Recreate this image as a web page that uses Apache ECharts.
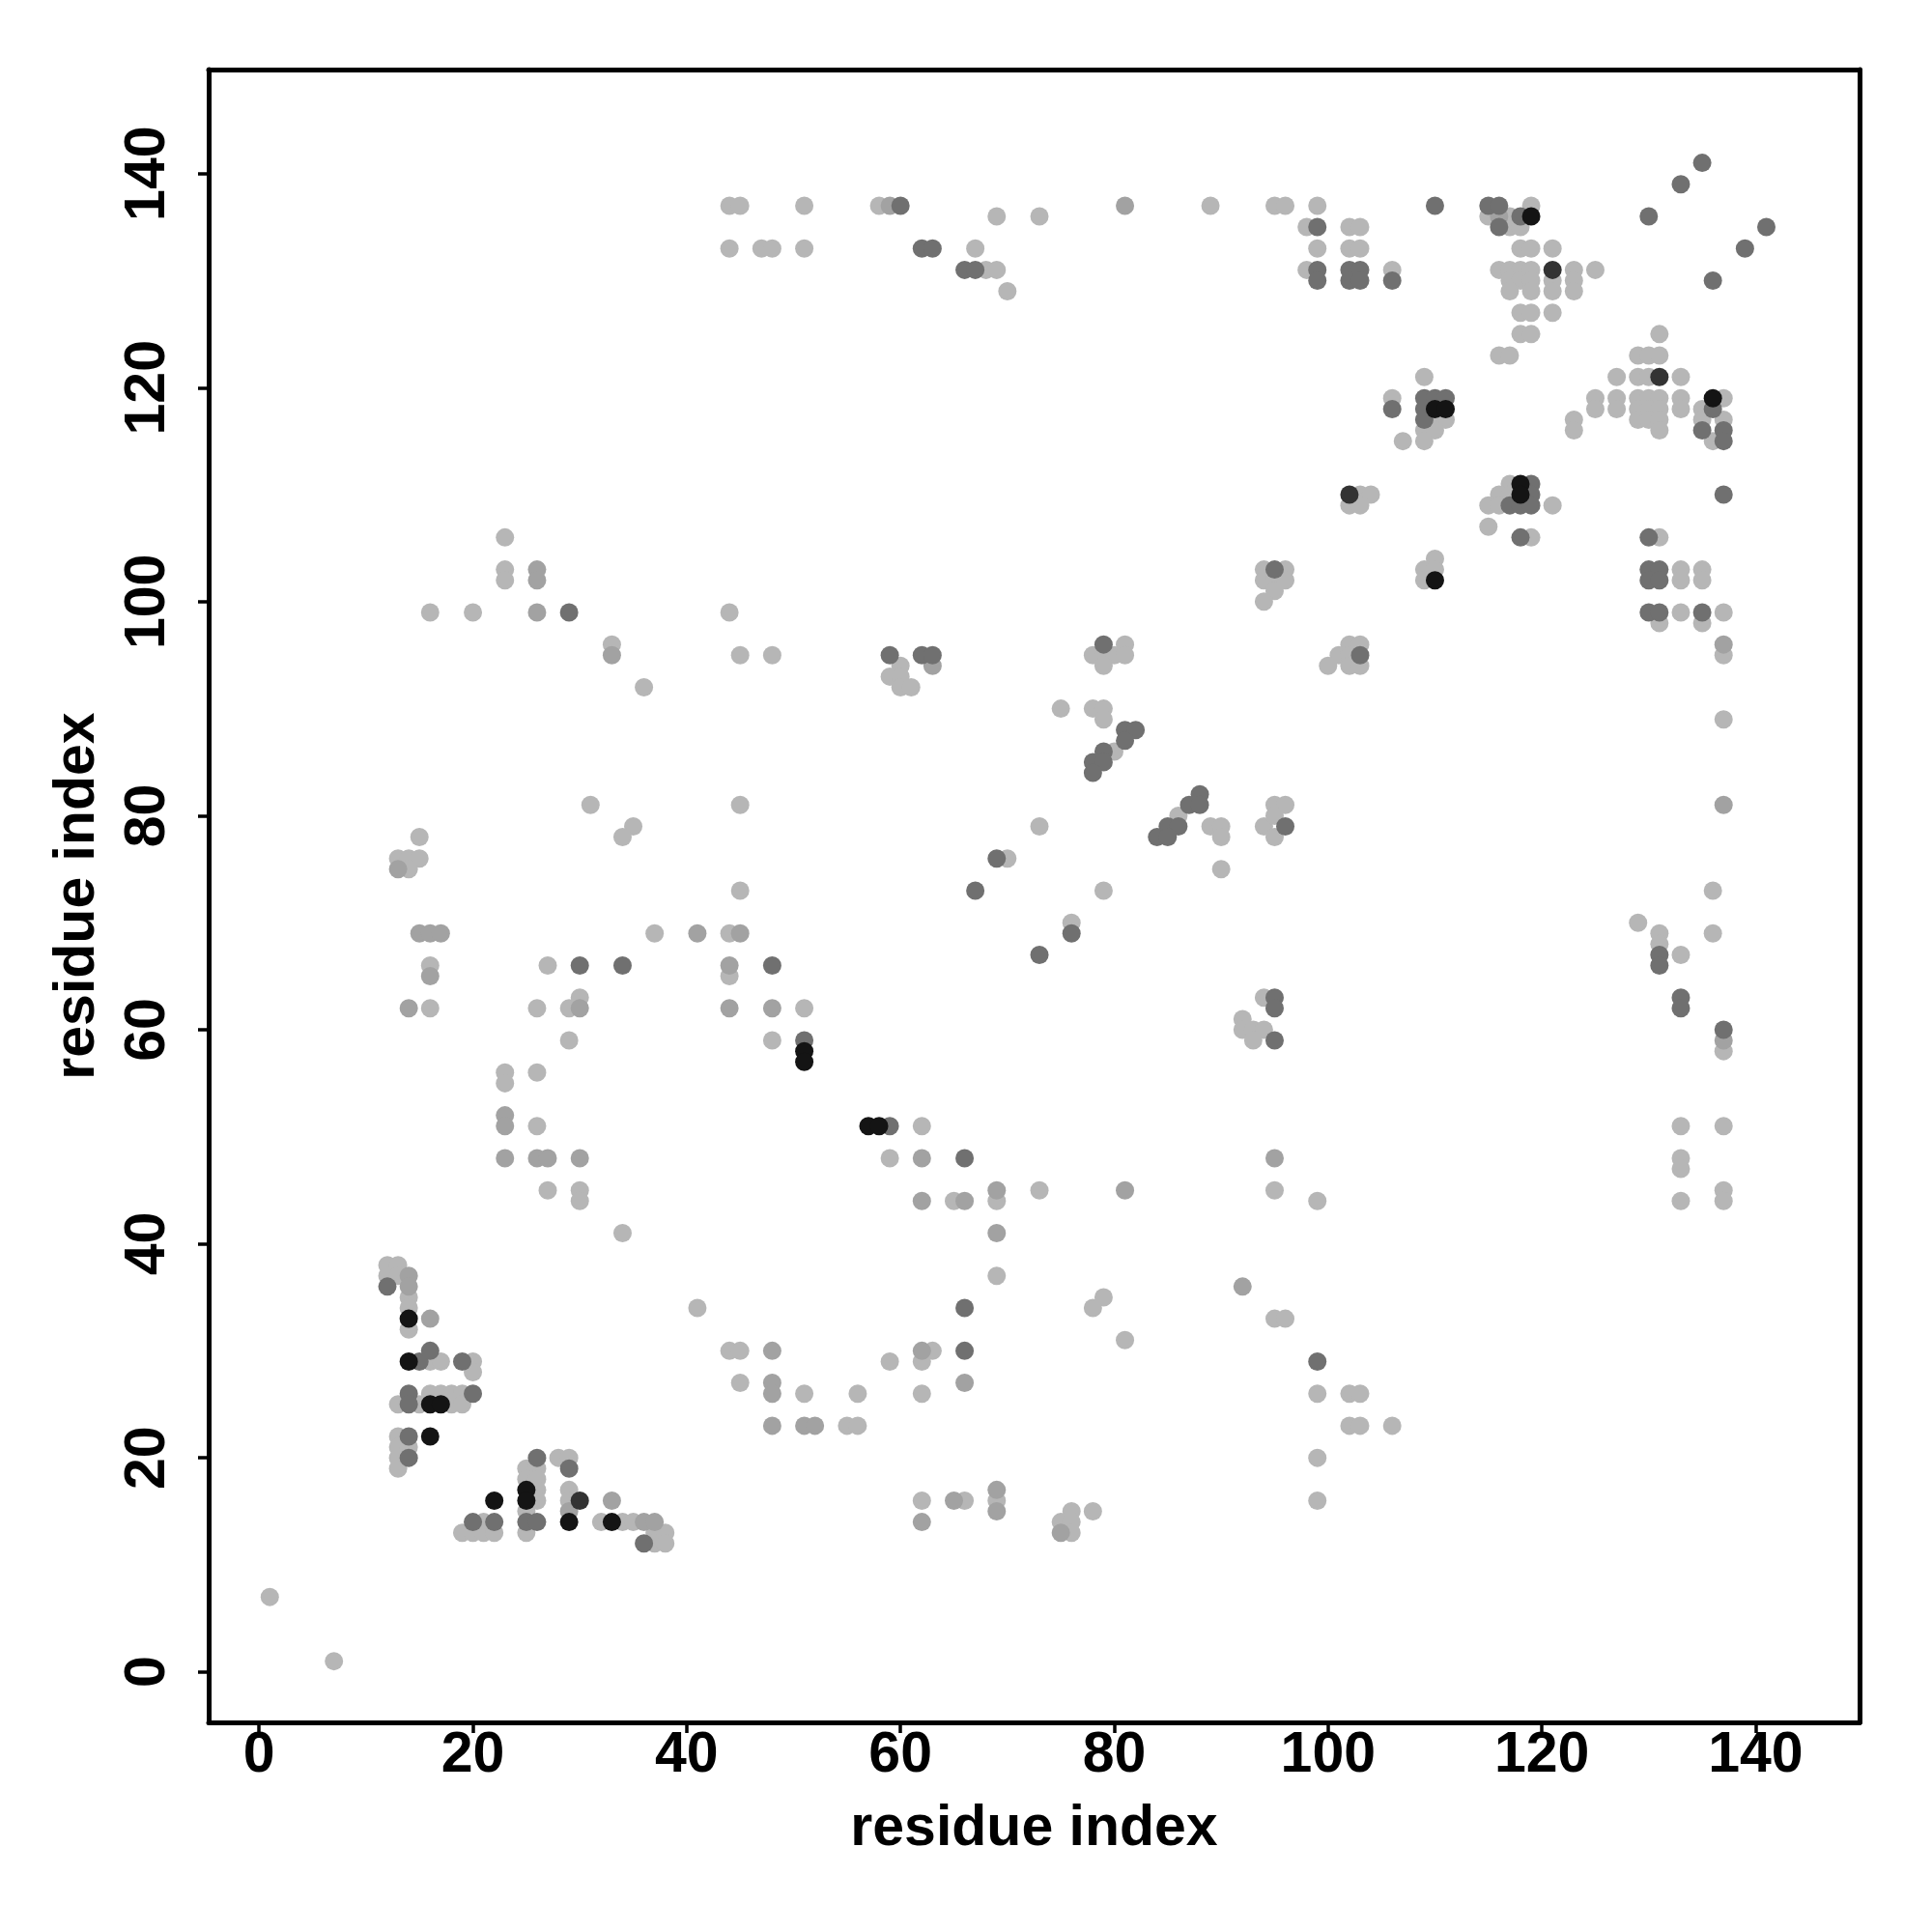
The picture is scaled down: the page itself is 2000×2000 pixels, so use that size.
<!DOCTYPE html>
<html>
<head>
<meta charset="utf-8">
<script src="https://cdn.jsdelivr.net/npm/echarts@6/dist/echarts.min.js"></script>
<style>
html,body{margin:0;padding:0;background:#fff;}
#chart{width:2000px;height:2000px;}
</style>
</head>
<body>
<div id="chart"></div>
<script>
// axis
const axisMin = -4.72, axisMax = 149.72;
const tickValues = [0, 20, 40, 60, 80, 100, 120, 140];
const axisTitle = 'residue index';

// contact probability levels (grey shade of each dot)
const levelLight = 0.25, levelMedium = 0.34, levelDark = 0.56, levelVeryDark = 0.83, levelBlack = 0.97;

// contacts [residue i, residue j] per level
const lightContacts = [
[44,137],[45,137],[44,133],[51,137],[58,137],[69,136],[73,136],[89,137],[95,137],[96,137],
[47,133],[48,133],[51,133],[67,133],[68,131],[69,131],[70,129],
[99,137],[98,135],[102,135],[103,135],[99,133],[102,133],[103,133],[98,131],[106,131],
[119,137],[115,136],[117,136],[117,135],[118,135],[118,133],[119,133],[121,133],
[116,131],[117,131],[118,131],[119,131],[123,131],[125,131],
[117,130],[118,130],[119,130],[121,130],[123,130],
[117,129],[119,129],[121,129],[123,129],
[118,127],[119,127],[121,127],[118,125],[119,125],[116,123],[117,123],
[109,121],[106,119],[110,117],[111,117],[109,116],[110,116],[107,115],[109,115],
[131,125],[129,123],[130,123],[131,123],[127,121],[129,121],[130,121],[133,121],
[125,119],[127,119],[129,119],[130,119],[131,119],[133,119],[137,119],
[125,118],[127,118],[129,118],[130,118],[131,118],[133,118],[135,118],
[123,117],[129,117],[130,117],[131,117],[135,117],[137,117],
[123,116],[131,116],[136,115],
[23,106],[23,103],[23,102],[16,99],[20,99],[44,99],[33,96],[45,95],[36,92],[31,81],[35,79],[34,78],[45,81],[15,78],[13,76],[14,76],[15,76],[14,75],
[48,95],[60,94],[59,93],[60,93],[60,92],[61,92],
[81,96],[78,95],[79,95],[80,95],[81,95],[79,94],
[75,90],[78,90],[79,90],[79,89],[80,86],[86,80],
[89,79],[90,79],[90,78],[90,75],[94,79],[95,81],[96,81],[95,80],[95,78],[73,79],[70,76],
[94,103],[96,103],[94,102],[95,102],[96,102],[95,101],[94,100],
[103,110],[104,110],[102,109],[103,109],[110,104],[109,103],[110,103],[109,102],
[117,111],[116,110],[117,110],[115,109],[116,109],[121,109],[115,107],[119,106],
[131,106],[133,103],[135,103],[133,102],[135,102],[133,99],[137,99],[131,98],[135,98],
[137,95],[137,89],[136,73],
[102,96],[103,96],[101,95],[102,95],[100,94],[102,94],[103,94],
[45,73],[37,69],[44,69],[16,66],[27,66],[44,65],[16,62],[26,62],[29,62],[30,63],
[29,59],[23,56],[23,55],[26,56],[26,51],[27,45],[30,45],[30,44],[34,41],
[12,38],[13,38],[12,37],[13,37],[14,35],
[79,73],[76,70],[51,62],[48,59],[62,51],[59,48],[73,45],[95,45],[65,44],[69,44],[69,37],[79,35],[78,34],
[94,63],[92,61],[92,60],[93,60],[94,60],[93,59],
[129,70],[131,69],[131,68],[133,67],[136,69],[137,58],
[133,51],[137,51],[133,48],[133,47],[137,45],[137,44],[133,44],[99,44],
[41,34],[44,30],[45,30],[45,27],[1,7],[7,1],
[14,34],[14,32],[16,29],[17,29],[20,29],[20,28],
[16,26],[17,26],[18,26],[19,26],[13,25],[15,25],[18,25],[19,25],
[13,22],[13,21],[14,21],[13,20],[13,19],
[21,14],[19,13],[20,13],[21,13],[22,13],
[25,19],[26,19],[25,18],[26,18],[26,17],[26,16],[25,15],[25,13],
[28,20],[29,20],[29,17],[29,16],
[32,14],[34,14],[35,14],[37,13],[38,13],[37,12],[38,12],
[81,31],[95,33],[96,33],[63,30],[62,29],[59,29],
[51,26],[56,26],[62,26],[55,23],[56,23],
[62,16],[66,16],[69,16],[76,15],[78,15],[75,14],[76,14],[76,13],
[99,26],[102,26],[103,26],[102,23],[103,23],[106,23],[99,20],[99,16]
];
const mediumContacts = [
[59,137],[81,137],[116,136],[26,103],[26,102],[26,99],[33,95],[13,75],[63,94],
[137,96],[137,81],[15,69],[16,69],[17,69],[41,69],[45,69],[16,65],[44,66],[14,62],[30,62],[44,62],
[23,52],[23,51],[23,48],[26,48],[27,48],[30,48],[14,37],[14,36],
[48,62],[62,48],[95,48],[69,45],[81,45],[62,44],[66,44],[69,41],[92,36],[137,59],
[16,33],[29,15],[33,16],[36,14],[37,14],
[48,30],[62,30],[48,27],[66,27],[48,26],[48,23],[51,23],[52,23],
[65,16],[62,14],[69,17],[69,15],[75,13]
];
const darkContacts = [
[60,137],[62,133],[63,133],[66,131],[67,131],[99,135],[99,131],[102,131],[103,131],
[99,130],[102,130],[103,130],[106,130],[110,137],[115,137],[116,137],[118,136],[116,135],
[135,141],[133,139],[130,136],[141,135],[139,133],[136,130],
[109,119],[110,119],[111,119],[106,118],[109,118],[109,117],[136,118],[135,116],[137,116],[137,115],
[29,99],[59,95],[62,95],[63,95],[79,96],
[81,88],[82,88],[81,87],[79,86],[78,85],[79,85],[78,84],
[88,82],[87,81],[88,81],[85,79],[86,79],[84,78],[85,78],[96,79],[69,76],[95,103],
[119,111],[119,110],[117,109],[118,109],[119,109],[118,106],[137,110],[130,106],
[130,103],[131,103],[130,102],[131,102],[130,99],[131,99],[135,99],[103,95],
[30,66],[34,66],[12,36],[67,73],[76,69],[73,67],[48,66],[51,59],[59,51],[66,48],[66,34],
[95,63],[95,62],[95,59],[131,67],[131,66],[133,63],[133,62],[137,60],
[15,29],[19,29],[16,30],[14,26],[20,26],[14,25],[14,22],[14,20],
[20,14],[22,14],[26,20],[25,14],[26,14],[29,19],[36,12],[66,30],[99,29]
];
const veryDarkContacts = [[121,131],[131,121],[102,110],[30,16]];
const blackContacts = [
[119,136],[110,118],[111,118],[136,119],[110,102],[118,111],[118,110],
[51,58],[51,57],[57,51],[58,51],
[14,33],[14,29],[16,25],[17,25],[16,22],[22,16],[25,17],[25,16],[29,14],[33,14]
];

const groups = [
  [lightContacts, levelLight],
  [mediumContacts, levelMedium],
  [darkContacts, levelDark],
  [veryDarkContacts, levelVeryDark],
  [blackContacts, levelBlack]
];
const points = [];
groups.forEach(([arr, p]) => arr.forEach(([i, j]) => points.push([i, j, p])));

const font = '"Liberation Sans", Arial, Helvetica, sans-serif';
const frameLine = {show: true, onZero: false, lineStyle: {color: '#000', width: 5}};
const labelStyle = {fontFamily: font, fontWeight: 'bold', fontSize: 59, color: '#000'};
const tickStyle = {show: true, inside: false, length: 11, lineStyle: {color: '#000', width: 3.5}, customValues: tickValues};

const chart = echarts.init(document.getElementById('chart'), null, {renderer: 'canvas'});
chart.setOption({
  animation: false,
  backgroundColor: '#ffffff',
  grid: {left: 216, top: 72, width: 1709, height: 1711, show: false},
  visualMap: {show: false, type: 'continuous', dimension: 2, seriesIndex: 0, min: 0, max: 1, inRange: {color: ['#eeeeee', '#0d0d0d']}},
  xAxis: [{
    type: 'value', position: 'bottom', min: axisMin, max: axisMax,
    name: axisTitle, nameLocation: 'middle', nameGap: 81,
    nameTextStyle: labelStyle,
    axisLine: frameLine,
    splitLine: {show: false},
    axisTick: tickStyle,
    axisLabel: Object.assign({show: true, margin: 5, customValues: tickValues}, labelStyle)
  }, {
    type: 'value', position: 'top', min: axisMin, max: axisMax,
    axisLine: frameLine, axisTick: {show: false}, axisLabel: {show: false}, splitLine: {show: false}
  }],
  yAxis: [{
    type: 'value', position: 'left', min: axisMin, max: axisMax,
    name: axisTitle, nameLocation: 'middle', nameGap: 106, nameRotate: 90,
    nameTextStyle: labelStyle,
    axisLine: frameLine,
    splitLine: {show: false},
    axisTick: tickStyle,
    axisLabel: Object.assign({show: true, rotate: 90, margin: 33, customValues: tickValues}, labelStyle)
  }, {
    type: 'value', position: 'right', min: axisMin, max: axisMax,
    axisLine: frameLine, axisTick: {show: false}, axisLabel: {show: false}, splitLine: {show: false}
  }],
  series: [{
    type: 'scatter',
    xAxisIndex: 0, yAxisIndex: 0,
    symbol: 'circle',
    symbolSize: 19,
    data: points,
    itemStyle: {opacity: 1},
    emphasis: {disabled: true}
  }]
});
</script>
</body>
</html>
